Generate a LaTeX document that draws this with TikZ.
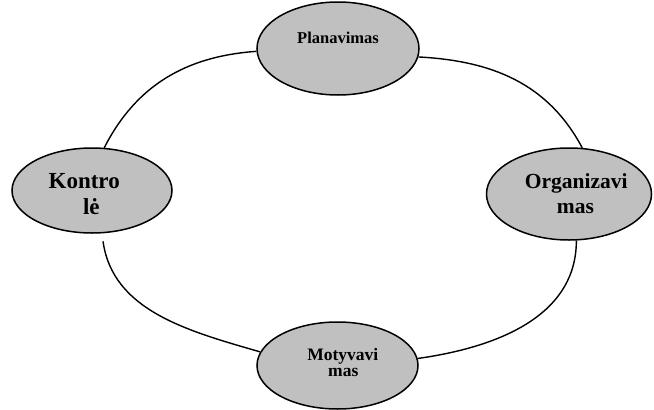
\documentclass[tikz,border=0pt]{standalone}
\usepackage{fontspec}
\setmainfont{Liberation Serif}
\usetikzlibrary{shapes.geometric}
\definecolor{ellfill}{RGB}{192,192,192}
\tikzset{
  ell/.style={ellipse, draw=black, fill=ellfill, line width=1.5pt, inner sep=0pt},
  conn/.style={draw=black, line width=1.4pt},
  txt/.style={inner sep=0pt, anchor=base, font=\bfseries},
}
\begin{document}
\begin{tikzpicture}[x=1pt,y=-1pt]
\useasboundingbox (0,0) rectangle (654,410);
% ellipses
\node[ell, minimum width=162pt, minimum height=93pt] (p) at (338,48.5) {};
\node[ell, minimum width=160pt, minimum height=85pt] (k) at (92,190.5) {};
\node[ell, minimum width=165pt, minimum height=92pt] (o) at (569,194) {};
\node[ell, minimum width=161pt, minimum height=87pt] (m) at (337.5,365.5) {};
% texts
\node[txt, font=\bfseries\fontsize{16.5}{17}\selectfont] (pt) at (338,43) {Planavimas};
\node[txt, font=\bfseries\fontsize{23}{26}\selectfont] (kt1) at (84.2,188.7) {Kontro};
\node[txt, font=\bfseries\fontsize{23}{26}\selectfont] (kt2) at (91.3,214.7) {lė};
\node[txt, font=\bfseries\fontsize{21.5}{24}\selectfont] (ot1) at (576.3,188.7) {Organizavi};
\node[txt, font=\bfseries\fontsize{21.5}{24}\selectfont] (ot2) at (575.5,213) {mas};
\node[txt, font=\bfseries\fontsize{17.5}{17}\selectfont] (mt1) at (342.8,360) {Motyvavi};
\node[txt, font=\bfseries\fontsize{17.5}{17}\selectfont] (mt2) at (343.3,376.7) {mas};
% connectors
\draw[conn] (k.74) to[out=63,in=184] (p.182);
\draw[conn] (p.-6) to[out=-3,in=118] (o.74);
\draw[conn] (o.-81) to[out=-90,in=8] (m.5);
\draw[conn, shorten <=8pt] (k.-77) to[out=-82,in=164] (m.170);
\end{tikzpicture}
\end{document}
